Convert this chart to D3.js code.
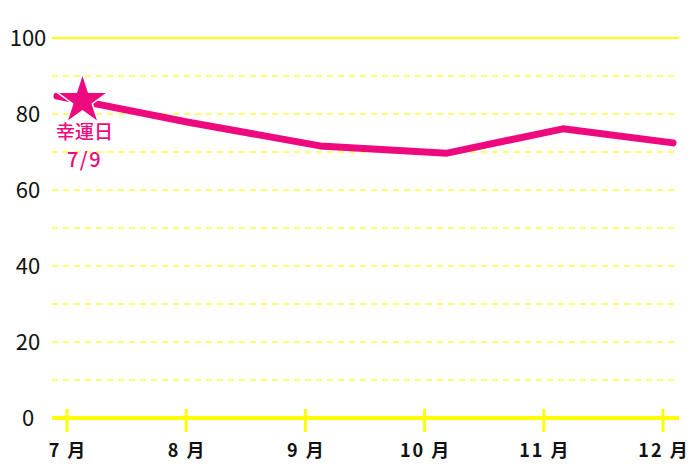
<!DOCTYPE html>
<html lang="ja">
<head>
<meta charset="utf-8">
<title>幸運日</title>
<script src="https://d3js.org/d3.v7.min.js"></script>
<style>
  body { margin: 0; background: #fff; }
  .axis-label { font-family: "Noto Sans CJK JP", "Noto Sans", sans-serif; }
</style>
</head>
<body>
<div id="chart"></div>
<script>
// data
const months = ["7 月", "8 月", "9 月", "10 月", "11 月", "12 月"];
const yTicks = [0, 20, 40, 60, 80, 100];
const gridValues = [10, 20, 30, 40, 50, 60, 70, 80, 90];
// position along the month axis (0 = 7月) and value
const linePos = [-0.084, 1.007, 2.123, 3.188, 4.161, 5.084];
const lineVal = [84.7, 77.9, 71.6, 69.7, 76.1, 72.4];
const luckyPos = 0.13;
const luckyVal = 83.8;
const luckyText = ["幸運日", "7/9"];

const W = 700, H = 467;
const pink = "#ee0a7e";

const x = d3.scaleLinear().domain([0, 5]).range([67, 663]);
const y = d3.scaleLinear().domain([0, 100]).range([418, 38]);
const gridX0 = 52, gridX1 = 679;

const svg = d3.select("#chart").append("svg")
  .attr("width", W).attr("height", H);

// grid
svg.append("g").selectAll("line")
  .data(gridValues)
  .join("line")
  .attr("x1", gridX0).attr("x2", gridX1)
  .attr("y1", d => y(d)).attr("y2", d => y(d))
  .attr("stroke", "#ffff70")
  .attr("stroke-width", 2)
  .attr("stroke-dasharray", "6,5");

svg.append("line")
  .attr("x1", gridX0).attr("x2", gridX1)
  .attr("y1", y(100)).attr("y2", y(100))
  .attr("stroke", "#ffff00")
  .attr("stroke-width", 2);

// x axis
svg.append("line")
  .attr("x1", gridX0).attr("x2", gridX1)
  .attr("y1", y(0)).attr("y2", y(0))
  .attr("stroke", "#ffff00")
  .attr("stroke-width", 4);

svg.append("g").selectAll("line")
  .data(months)
  .join("line")
  .attr("x1", (d, i) => x(i)).attr("x2", (d, i) => x(i))
  .attr("y1", y(0) - 9).attr("y2", y(0) + 14)
  .attr("stroke", "#ffff00")
  .attr("stroke-width", 3);

svg.append("g").selectAll("text")
  .data(months)
  .join("text")
  .attr("class", "axis-label")
  .attr("x", (d, i) => x(i) + 1)
  .attr("y", 457)
  .attr("text-anchor", "middle")
  .attr("font-size", 18)
  .attr("font-weight", "bold")
  .attr("letter-spacing", 2)
  .attr("fill", "#111")
  .text(d => d);

// y labels
svg.append("g").selectAll("text")
  .data(yTicks)
  .join("text")
  .attr("class", "axis-label")
  .attr("x", 28)
  .attr("y", d => y(d) + 8)
  .attr("text-anchor", "middle")
  .attr("font-size", 22)
  .attr("fill", "#111")
  .text(d => d);

// line
const pts = linePos.map((p, i) => [p, lineVal[i]]);
svg.append("path")
  .datum(pts)
  .attr("fill", "none")
  .attr("stroke", pink)
  .attr("stroke-width", 7)
  .attr("stroke-linecap", "round")
  .attr("stroke-linejoin", "round")
  .attr("d", d3.line().x(d => x(d[0])).y(d => y(d[1])));

// lucky day star
const star = d3.symbol().type(d3.symbolStar).size(820);
svg.append("path")
  .attr("d", star())
  .attr("transform", `translate(${x(luckyPos)},${y(luckyVal) + 1})`)
  .attr("fill", pink)
  .attr("stroke", "#fff")
  .attr("stroke-width", 1.5)
  .attr("stroke-linejoin", "round");

svg.append("g").selectAll("text")
  .data(luckyText)
  .join("text")
  .attr("class", "axis-label")
  .attr("x", x(luckyPos) + 2)
  .attr("y", (d, i) => i ? 167 : 139)
  .attr("text-anchor", "middle")
  .attr("font-size", (d, i) => i ? 20 : 19)
  .attr("font-weight", 500)
  .attr("letter-spacing", (d, i) => i ? 1.5 : 0)
  .attr("fill", pink)
  .text(d => d);
</script>
</body>
</html>
